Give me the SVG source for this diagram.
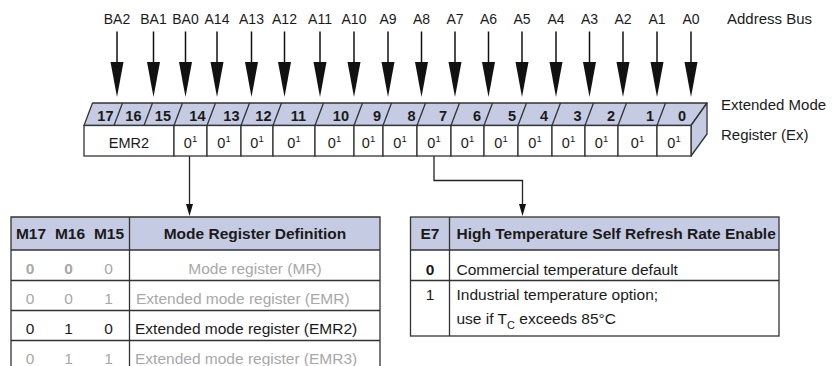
<svg xmlns="http://www.w3.org/2000/svg" width="840" height="366" viewBox="0 0 840 366">
<style>
text{font-family:"Liberation Sans",Arial,sans-serif;fill:#1a1a1a}
.lbl{font-size:14px;text-anchor:middle}
.side{font-size:15px}
.band{font-size:14.5px;font-weight:bold;text-anchor:end}
.cell{font-size:14.5px;text-anchor:middle}
.sup{font-size:9.5px}
.th{font-size:15.5px;font-weight:bold}
.td{font-size:15.5px}
.g{fill:#a8a8a8}
.c{text-anchor:middle}
.b{font-weight:bold}
.box{fill:#fff;stroke:#333;stroke-width:1.3}
.face{fill:#c5cbe2;stroke:#333;stroke-width:1.3;stroke-linejoin:round}
.wire{fill:none;stroke:#222;stroke-width:1.3}
.hdr{fill:#c5cbe2;stroke:none}
.rule{stroke:#333;stroke-width:1.3;fill:none}
.bus{stroke:#111;stroke-width:1.5}
.head{fill:#111}
</style>
<defs>
<g id="busArrow">
<line class="bus" x1="0" y1="31.5" x2="0" y2="63"/>
<polygon class="head" points="-6.5,62 6.5,62 0,97"/>
</g>
</defs>

<g id="address-bus">
<text class="lbl" x="117" y="24">BA2</text>
<text class="lbl" x="153.5" y="24">BA1</text>
<text class="lbl" x="185.5" y="24">BA0</text>
<text class="lbl" x="217" y="24">A14</text>
<text class="lbl" x="251.5" y="24">A13</text>
<text class="lbl" x="284.5" y="24">A12</text>
<text class="lbl" x="320" y="24">A11</text>
<text class="lbl" x="354" y="24">A10</text>
<text class="lbl" x="388" y="24">A9</text>
<text class="lbl" x="421.5" y="24">A8</text>
<text class="lbl" x="455" y="24">A7</text>
<text class="lbl" x="488.5" y="24">A6</text>
<text class="lbl" x="522" y="24">A5</text>
<text class="lbl" x="556" y="24">A4</text>
<text class="lbl" x="589.5" y="24">A3</text>
<text class="lbl" x="623" y="24">A2</text>
<text class="lbl" x="657" y="24">A1</text>
<text class="lbl" x="691" y="24">A0</text>
<text class="side" x="727" y="24">Address Bus</text>
</g>

<g id="connectors">
<use href="#busArrow" x="117"/>
<use href="#busArrow" x="153.5"/>
<use href="#busArrow" x="185.5"/>
<use href="#busArrow" x="217"/>
<use href="#busArrow" x="251.5"/>
<use href="#busArrow" x="284.5"/>
<use href="#busArrow" x="320"/>
<use href="#busArrow" x="354"/>
<use href="#busArrow" x="388"/>
<use href="#busArrow" x="421.5"/>
<use href="#busArrow" x="455"/>
<use href="#busArrow" x="488.5"/>
<use href="#busArrow" x="522"/>
<use href="#busArrow" x="556"/>
<use href="#busArrow" x="589.5"/>
<use href="#busArrow" x="623"/>
<use href="#busArrow" x="657"/>
<use href="#busArrow" x="691"/>
<polyline class="wire" points="189.5,156 189.5,205"/>
<polygon class="head" points="186,204 193,204 189.5,216"/>
<polyline class="wire" points="434,156 434,180.5 522.5,180.5 522.5,205"/>
<polygon class="head" points="519,204 526,204 522.5,216"/>
</g>

<g id="register">
<polygon class="face" points="84,125.5 92.5,103 707,103 691,125.5"/>
<polygon class="face" points="691,125.5 707,103 707,134 691,156"/>
<g class="rule">
<line x1="114" y1="125.5" x2="122.5" y2="103"/>
<line x1="144" y1="125.5" x2="152.5" y2="103"/>
<line x1="174" y1="125.5" x2="182.5" y2="103"/>
<line x1="207" y1="125.5" x2="215.5" y2="103"/>
<line x1="241" y1="125.5" x2="249.5" y2="103"/>
<line x1="273" y1="125.5" x2="281.5" y2="103"/>
<line x1="315" y1="125.5" x2="323.5" y2="103"/>
<line x1="354" y1="125.5" x2="362.5" y2="103"/>
<line x1="383" y1="125.5" x2="391.5" y2="103"/>
<line x1="417" y1="125.5" x2="425.5" y2="103"/>
<line x1="451" y1="125.5" x2="459.5" y2="103"/>
<line x1="484" y1="125.5" x2="492.5" y2="103"/>
<line x1="518" y1="125.5" x2="526.5" y2="103"/>
<line x1="552" y1="125.5" x2="560.5" y2="103"/>
<line x1="585" y1="125.5" x2="593.5" y2="103"/>
<line x1="618" y1="125.5" x2="626.5" y2="103"/>
<line x1="657" y1="125.5" x2="665.5" y2="103"/>
</g>
<text class="band" x="113.5" y="121">17</text>
<text class="band" x="141.5" y="121">16</text>
<text class="band" x="171" y="121">15</text>
<text class="band" x="205.5" y="121">14</text>
<text class="band" x="239.5" y="121">13</text>
<text class="band" x="271.5" y="121">12</text>
<text class="band" x="306" y="121">11</text>
<text class="band" x="349" y="121">10</text>
<text class="band" x="381" y="121">9</text>
<text class="band" x="415.5" y="121">8</text>
<text class="band" x="447" y="121">7</text>
<text class="band" x="481" y="121">6</text>
<text class="band" x="516" y="121">5</text>
<text class="band" x="548" y="121">4</text>
<text class="band" x="581.5" y="121">3</text>
<text class="band" x="615" y="121">2</text>
<text class="band" x="654" y="121">1</text>
<text class="band" x="686" y="121">0</text>
<rect class="box" x="84" y="125.5" width="90" height="30.5"/>
<rect class="box" x="174" y="125.5" width="33" height="30.5"/>
<rect class="box" x="207" y="125.5" width="34" height="30.5"/>
<rect class="box" x="241" y="125.5" width="32" height="30.5"/>
<rect class="box" x="273" y="125.5" width="42" height="30.5"/>
<rect class="box" x="315" y="125.5" width="39" height="30.5"/>
<rect class="box" x="354" y="125.5" width="29" height="30.5"/>
<rect class="box" x="383" y="125.5" width="34" height="30.5"/>
<rect class="box" x="417" y="125.5" width="34" height="30.5"/>
<rect class="box" x="451" y="125.5" width="33" height="30.5"/>
<rect class="box" x="484" y="125.5" width="34" height="30.5"/>
<rect class="box" x="518" y="125.5" width="34" height="30.5"/>
<rect class="box" x="552" y="125.5" width="33" height="30.5"/>
<rect class="box" x="585" y="125.5" width="33" height="30.5"/>
<rect class="box" x="618" y="125.5" width="39" height="30.5"/>
<rect class="box" x="657" y="125.5" width="34" height="30.5"/>
<text class="cell" x="129" y="147.5">EMR2</text>
<text class="cell" x="190.5" y="147.5">0<tspan class="sup" dy="-6">1</tspan></text>
<text class="cell" x="224" y="147.5">0<tspan class="sup" dy="-6">1</tspan></text>
<text class="cell" x="257" y="147.5">0<tspan class="sup" dy="-6">1</tspan></text>
<text class="cell" x="294" y="147.5">0<tspan class="sup" dy="-6">1</tspan></text>
<text class="cell" x="334.5" y="147.5">0<tspan class="sup" dy="-6">1</tspan></text>
<text class="cell" x="368.5" y="147.5">0<tspan class="sup" dy="-6">1</tspan></text>
<text class="cell" x="400" y="147.5">0<tspan class="sup" dy="-6">1</tspan></text>
<text class="cell" x="434" y="147.5">0<tspan class="sup" dy="-6">1</tspan></text>
<text class="cell" x="467.5" y="147.5">0<tspan class="sup" dy="-6">1</tspan></text>
<text class="cell" x="501" y="147.5">0<tspan class="sup" dy="-6">1</tspan></text>
<text class="cell" x="535" y="147.5">0<tspan class="sup" dy="-6">1</tspan></text>
<text class="cell" x="568.5" y="147.5">0<tspan class="sup" dy="-6">1</tspan></text>
<text class="cell" x="601.5" y="147.5">0<tspan class="sup" dy="-6">1</tspan></text>
<text class="cell" x="637.5" y="147.5">0<tspan class="sup" dy="-6">1</tspan></text>
<text class="cell" x="674" y="147.5">0<tspan class="sup" dy="-6">1</tspan></text>
<text class="side" x="721" y="109.5">Extended Mode</text>
<text class="side" x="721" y="139.5">Register (Ex)</text>
</g>

<g id="mode-register-table">
<rect class="hdr" x="11" y="217" width="369" height="33"/>
<g class="rule">
<polyline points="11,366 11,217 380,217 380,366"/>
<line x1="129.5" y1="217" x2="129.5" y2="366"/>
<line x1="11" y1="250" x2="380" y2="250"/>
<line x1="11" y1="280.5" x2="380" y2="280.5"/>
<line x1="11" y1="310.5" x2="380" y2="310.5"/>
<line x1="11" y1="340.5" x2="380" y2="340.5"/>
</g>
<text class="th c" x="31" y="239">M17</text>
<text class="th c" x="70" y="239">M16</text>
<text class="th c" x="109" y="239">M15</text>
<text class="th c" x="255" y="239">Mode Register Definition</text>
<text class="td c g b" x="30" y="273.5">0</text>
<text class="td c g b" x="68.5" y="273.5">0</text>
<text class="td c g" x="108.5" y="273.5">0</text>
<text class="td c g" x="255" y="273.5">Mode register (MR)</text>
<text class="td c g" x="30" y="304">0</text>
<text class="td c g" x="68.5" y="304">0</text>
<text class="td c g" x="108.5" y="304">1</text>
<text class="td g" x="136" y="304">Extended mode register (EMR)</text>
<text class="td c" x="30" y="334">0</text>
<text class="td c" x="68.5" y="334">1</text>
<text class="td c" x="108.5" y="334">0</text>
<text class="td" x="135" y="334">Extended mode register (EMR2)</text>
<text class="td c g" x="30" y="364">0</text>
<text class="td c g" x="68.5" y="364">1</text>
<text class="td c g" x="108.5" y="364">1</text>
<text class="td g" x="135" y="364">Extended mode register (EMR3)</text>
</g>

<g id="e7-table">
<rect class="hdr" x="410.5" y="217" width="368.5" height="33"/>
<g class="rule">
<rect x="410.5" y="217" width="368.5" height="119"/>
<line x1="449.5" y1="217" x2="449.5" y2="336"/>
<line x1="410.5" y1="250" x2="779" y2="250"/>
<line x1="410.5" y1="280.5" x2="779" y2="280.5"/>
</g>
<text class="th c" x="430" y="239">E7</text>
<text class="th" x="456.5" y="239">High Temperature Self Refresh Rate Enable</text>
<text class="td c b" x="430" y="274.5">0</text>
<text class="td" x="456.5" y="274.5">Commercial temperature default</text>
<text class="td c" x="430" y="299.5">1</text>
<text class="td" x="456.5" y="299.5">Industrial temperature option;</text>
<text class="td" x="456.5" y="323.5">use if T<tspan font-size="11" dy="5">C</tspan><tspan dy="-5"> exceeds 85°C</tspan></text>
</g>
</svg>
